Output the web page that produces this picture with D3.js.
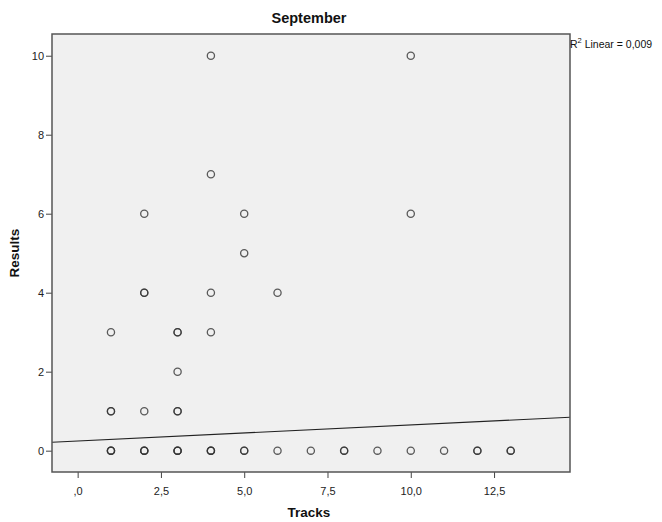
<!DOCTYPE html>
<html><head><meta charset="utf-8">
<script src="https://cdn.jsdelivr.net/npm/d3@7"></script>
<style>body{margin:0;background:#fff;}svg{display:block;font-family:"Liberation Sans",Arial,sans-serif;}</style>
</head><body><svg id="c" width="662" height="522"></svg>
<script>
// Data (duplicates reflect overlapping points drawn darker)
const tracks  = [1,1,1,1,1,1,3, 2,2,2,2,2,2,2, 3,3,3,3,3,3,3, 4,4,4,4,4,4,4, 5,5,5,5, 6,6, 7, 8,8, 9, 10,10,10, 11, 12,12, 13,13];
const results = [0,0,0,1,1,3,1, 0,0,0,1,4,4,6, 0,0,0,2,3,3,1, 0,0,3,4,7,10,0, 0,0,5,6, 0,4, 0, 0,0, 0, 0,6,10, 0, 0,0, 0,0];
const xTicks = [0,2.5,5,7.5,10,12.5];
const yTicks = [0,2,4,6,8,10];
const fit = {intercept: 0.244, slope: 0.0408};
const title = "September", xTitle = "Tracks", yTitle = "Results", r2Label = "0,009";

const svg = d3.select("#c");
const L = 52, R = 570, T = 34, B = 472;
const x = d3.scaleLinear().domain([-0.77, 14.78]).range([L, R]);
const y = d3.scaleLinear().domain([-0.54, 10.55]).range([B, T]);
const fmt = v => { const s = d3.format(".1f")(v).replace(".", ","); return s.startsWith("0,") ? s.slice(1) : s; };

svg.append("rect").attr("x", L).attr("y", T).attr("width", R - L).attr("height", B - T)
  .attr("fill", "#f0f0f0");

svg.append("clipPath").attr("id", "pc").append("rect")
  .attr("x", L).attr("y", T).attr("width", R - L).attr("height", B - T);

// regression line
const xd = x.domain();
svg.append("line").attr("clip-path", "url(#pc)")
  .attr("x1", x(xd[0])).attr("y1", y(fit.intercept + fit.slope * xd[0]))
  .attr("x2", x(xd[1])).attr("y2", y(fit.intercept + fit.slope * xd[1]))
  .attr("stroke", "#222").attr("stroke-width", 1.1);

// points
svg.append("g").selectAll("circle").data(tracks.map((t, i) => [t, results[i]]))
  .join("circle").attr("cx", d => x(d[0])).attr("cy", d => y(d[1])).attr("r", 3.6)
  .attr("fill", "none").attr("stroke", "#333").attr("stroke-width", 1.3).attr("stroke-opacity", 0.8);

// axes
const xAxis = svg.append("g").attr("transform", `translate(0,${B})`)
  .call(d3.axisBottom(x).tickValues(xTicks).tickFormat(fmt).tickSize(6).tickSizeOuter(0));
const yAxis = svg.append("g").attr("transform", `translate(${L},0)`)
  .call(d3.axisLeft(y).tickValues(yTicks).tickFormat(d3.format("d")).tickSize(6).tickSizeOuter(0));
[xAxis, yAxis].forEach(g => {
  g.select(".domain").remove();
  g.selectAll("line").attr("stroke", "#444");
  g.selectAll("text").attr("fill", "#222").style("font-size", "11px").style("font-family", "Liberation Sans, Arial, sans-serif");
});
xAxis.selectAll("text").attr("dy", "1.25em");
yAxis.selectAll("text").attr("dx", "0.1em");

// frame
svg.append("rect").attr("x", L).attr("y", T).attr("width", R - L).attr("height", B - T)
  .attr("fill", "none").attr("stroke", "#555").attr("stroke-width", 1.5);

// titles
svg.append("text").attr("x", 309).attr("y", 23).attr("text-anchor", "middle")
  .style("font-size", "14.5px").style("font-weight", "bold").attr("fill", "#111").text(title);
svg.append("text").attr("x", 309).attr("y", 517).attr("text-anchor", "middle")
  .style("font-size", "13.5px").style("font-weight", "bold").attr("fill", "#111").text(xTitle);
svg.append("text").attr("transform", "translate(19,253) rotate(-90)").attr("text-anchor", "middle")
  .style("font-size", "13.5px").style("font-weight", "bold").attr("fill", "#111").text(yTitle);

const r2 = svg.append("text").attr("x", 570).attr("y", 48).style("font-size", "10.5px").attr("fill", "#111");
r2.append("tspan").text("R");
r2.append("tspan").attr("dy", -5).style("font-size", "7.5px").text("2");
r2.append("tspan").attr("dy", 5).text(" Linear = " + r2Label);
</script></body></html>
